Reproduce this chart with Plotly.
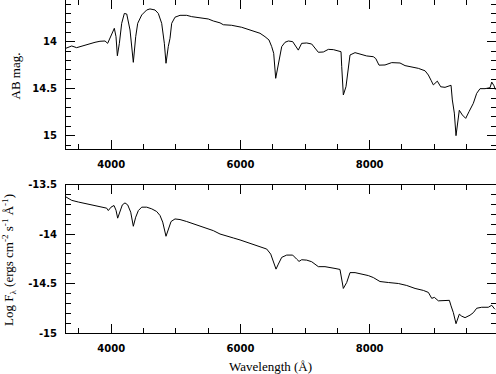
import plotly.graph_objects as go

# ---- top panel: AB magnitude ----
wl_top = [3300, 3388, 3465, 3517, 3594, 3672, 3749, 3826, 3904, 3945, 3981, 4048, 4074, 4095,
          4126, 4162, 4203, 4240, 4291, 4342, 4379, 4410, 4472, 4549, 4600, 4678, 4729, 4781,
          4822, 4848, 4883, 4910, 4936, 4987, 5065, 5168, 5245, 5348, 5503, 5580, 5684, 5735,
          5864, 6019, 6174, 6303, 6380, 6442, 6484, 6515, 6546, 6587, 6639, 6690, 6742, 6809,
          6860, 6896, 6948, 7026, 7103, 7155, 7206, 7283, 7361, 7438, 7516, 7557, 7568, 7593,
          7634, 7670, 7696, 7774, 7851, 7954, 8057, 8095, 8145, 8238, 8342, 8470, 8548, 8651,
          8754, 8858, 8909, 8950, 8986, 9048, 9100, 9167, 9260, 9280, 9311, 9337, 9363, 9388,
          9435, 9487, 9538, 9605, 9657, 9709, 9786, 9864, 9890, 9926, 9946]
ab_mag = [14.07, 14.046, 14.064, 14.053, 14.035, 14.018, 14.007, 13.996, 13.993, 14.018, 13.965,
          13.858, 13.947, 14.15, 14.018, 13.805, 13.70, 13.706, 13.876, 14.22, 13.947, 13.805,
          13.716, 13.663, 13.652, 13.663, 13.70, 13.805, 14.017, 14.23, 14.053, 13.965, 13.805,
          13.74, 13.72, 13.72, 13.734, 13.745, 13.759, 13.78, 13.80, 13.82, 13.826, 13.847,
          13.883, 13.911, 13.947, 13.982, 14.053, 14.124, 14.39, 14.23, 14.053, 14.007, 13.993,
          14.0, 14.046, 14.09, 14.018, 14.014, 14.025, 14.064, 14.113, 14.11, 14.082, 14.085,
          14.10, 14.107, 14.266, 14.567, 14.479, 14.30, 14.142, 14.117, 14.131, 14.152, 14.16,
          14.18, 14.25, 14.248, 14.223, 14.227, 14.255, 14.27, 14.284, 14.31, 14.355, 14.41,
          14.46, 14.42, 14.48, 14.486, 14.464, 14.62, 14.76, 15.0, 14.87, 14.73, 14.78, 14.816,
          14.745, 14.656, 14.55, 14.50, 14.50, 14.49, 14.43, 14.47, 14.51]

# ---- bottom panel: log F_lambda ----
wl_bot = [3300, 3388, 3491, 3620, 3749, 3878, 3930, 3955, 3997, 4043, 4074, 4100, 4136, 4172,
          4213, 4255, 4302, 4342, 4379, 4420, 4472, 4549, 4627, 4704, 4755, 4797, 4848, 4883,
          4926, 4987, 5065, 5168, 5271, 5375, 5478, 5580, 5684, 5787, 5890, 5994, 6097, 6200,
          6303, 6407, 6469, 6509, 6551, 6587, 6639, 6716, 6809, 6871, 6907, 6948, 7026, 7103,
          7155, 7206, 7309, 7412, 7464, 7541, 7568, 7593, 7645, 7696, 7774, 7877, 7980, 8057,
          8109, 8160, 8290, 8445, 8574, 8703, 8832, 8909, 8961, 9002, 9064, 9141, 9234, 9260,
          9296, 9337, 9388, 9425, 9477, 9554, 9605, 9657, 9734, 9837, 9890, 9926, 9941]
log_flux = [-13.626, -13.66, -13.677, -13.695, -13.712, -13.729, -13.739, -13.763, -13.729,
            -13.712, -13.76, -13.84, -13.76, -13.706, -13.686, -13.706, -13.78, -13.922, -13.83,
            -13.763, -13.729, -13.729, -13.746, -13.773, -13.813, -13.88, -14.023, -13.95,
            -13.874, -13.848, -13.854, -13.874, -13.898, -13.918, -13.94, -13.966, -14.0, -14.017,
            -14.04, -14.06, -14.084, -14.10, -14.128, -14.152, -14.203, -14.27, -14.355, -14.304,
            -14.236, -14.213, -14.213, -14.254, -14.277, -14.26, -14.264, -14.28, -14.304, -14.33,
            -14.33, -14.338, -14.348, -14.358, -14.45, -14.55, -14.49, -14.39, -14.39, -14.405,
            -14.42, -14.44, -14.46, -14.48, -14.49, -14.50, -14.52, -14.55, -14.57, -14.59, -14.65,
            -14.64, -14.675, -14.675, -14.67, -14.726, -14.795, -14.906, -14.81, -14.83, -14.845,
            -14.82, -14.795, -14.75, -14.74, -14.74, -14.72, -14.75, -14.76]

x_tickvals = [4000, 6000, 8000]
x_ticktext = ["4000", "6000", "8000"]
top_tickvals = [14, 14.5, 15]
top_ticktext = ["14", "14.5", "15"]
bot_tickvals = [-13.5, -14, -14.5, -15]
bot_ticktext = ["-13.5", "-14", "-14.5", "-15"]
x_minor_step = 500
y_minor_step = 0.1

W, H = 496, 374
L, R, T, B = 66, 0, 0, 41
ph = H - T - B
top_dom = [1 - 149.3 / ph, 1]
bot_dom = [0, (333 - 184.5) / ph]

tickfont = dict(family="DejaVu Sans", size=10, color="black", weight="bold")
titlefont = dict(family="Liberation Serif", size=13, color="black")

fig = go.Figure()
fig.add_trace(go.Scatter(x=wl_top, y=ab_mag, mode="lines", line=dict(color="black", width=1),
                         xaxis="x", yaxis="y", showlegend=False, hoverinfo="skip"))
fig.add_trace(go.Scatter(x=wl_bot, y=log_flux, mode="lines", line=dict(color="black", width=1),
                         xaxis="x2", yaxis="y2", showlegend=False, hoverinfo="skip"))

def minor(step):
    return dict(dtick=step, tick0=0, ticks="inside", ticklen=5, tickwidth=1, tickcolor="black")

common = dict(ticks="inside", ticklen=9, tickwidth=1, tickcolor="black",
              showline=True, linecolor="black", linewidth=1, mirror="allticks",
              showgrid=False, zeroline=False, tickfont=tickfont, automargin=False,
              ticklabelstandoff=6)

xcommon = dict(**common, range=[3300, 9956], tickvals=x_tickvals, ticktext=x_ticktext,
               minor=minor(x_minor_step))

fig.update_layout(
    width=W, height=H, autosize=False, margin=dict(l=L, r=R, t=T, b=B, pad=0),
    paper_bgcolor="white", plot_bgcolor="white", hovermode=False,
    xaxis=dict(**xcommon, domain=[0, 1], anchor="y"),
    yaxis=dict(**common, domain=top_dom, anchor="x", range=[15.145, 13.557],
               tickvals=top_tickvals, ticktext=top_ticktext, minor=minor(y_minor_step)),
    xaxis2=dict(**xcommon, domain=[0, 1], anchor="y2"),
    yaxis2=dict(**common, domain=bot_dom, anchor="x2", range=[-15, -13.5],
                tickvals=bot_tickvals, ticktext=bot_ticktext, minor=minor(y_minor_step)),
    annotations=[
        dict(text="AB mag.", xref="paper", yref="paper", x=(15.5 - L) / (W - L - R),
             y=1 - (76 - T) / ph, textangle=-90, showarrow=False, font=titlefont,
             xanchor="center", yanchor="middle"),
        dict(text="Log F<sub>λ</sub> (ergs cm<sup>-2</sup> s<sup>-1</sup> Å<sup>-1</sup>)",
             xref="paper", yref="paper", x=(9 - L) / (W - L - R), y=1 - (260 - T) / ph,
             textangle=-90, showarrow=False, font=titlefont, xanchor="center", yanchor="middle"),
        dict(text="Wavelength (Å)", xref="paper", yref="paper", x=(270 - L) / (W - L - R),
             y=1 - (366 - T) / ph, showarrow=False, font=titlefont,
             xanchor="center", yanchor="middle"),
    ],
)

fig.write_html("out.html", config={"displayModeBar": False, "staticPlot": True},
               post_script="document.body.style.margin='0';document.body.style.overflow='hidden';")
